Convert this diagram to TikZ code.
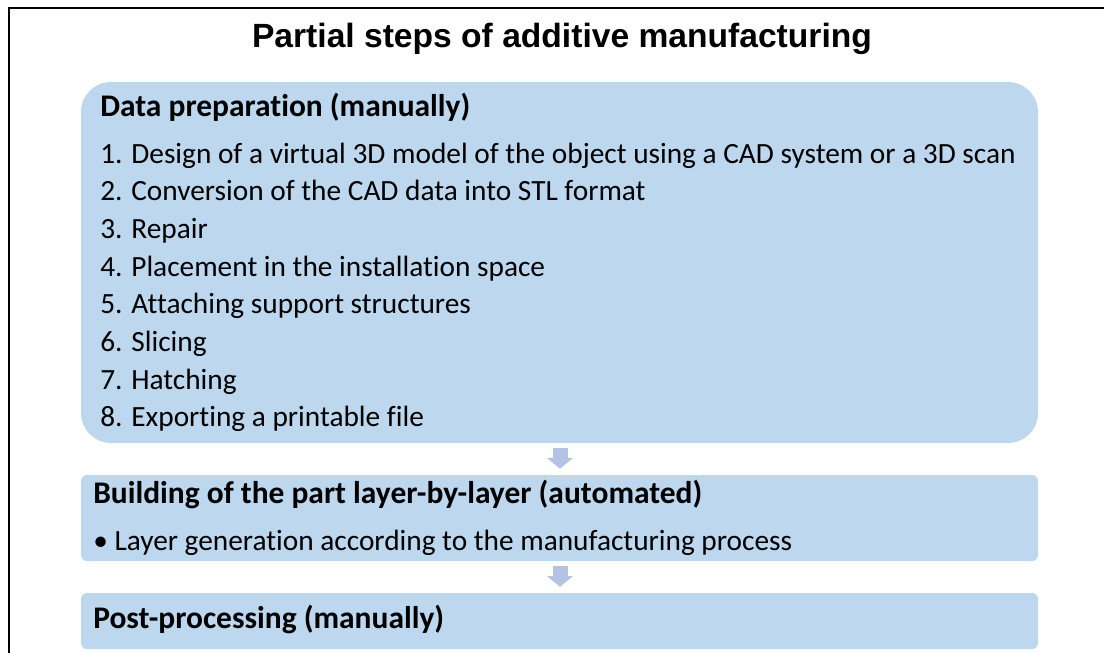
\documentclass[tikz,border=0pt]{standalone}
\usepackage{fontspec}
\setmainfont{Carlito}[Ligatures=NoCommon]
\newfontfamily\titlefont{Liberation Sans}
\usepackage{tikz}
\usetikzlibrary{arrows.meta, positioning}
\definecolor{stepblue}{HTML}{BDD7EE}
\definecolor{arrowblue}{HTML}{B4C2E4}
\tikzstyle{stepbox} = [rectangle, fill=stepblue, minimum width=717.75pt, inner sep=0pt]
\tikzstyle{heading} = [anchor=base west, inner sep=0pt, font=\fontsize{23.6}{27}\selectfont\bfseries]
\tikzstyle{item} = [anchor=base west, inner sep=0pt, font=\fontsize{22}{26}\selectfont]
\tikzstyle{flow} = [arrowblue, line width=11.25pt, -{Triangle[length=8pt, width=19pt]}, shorten <=3.75pt, shorten >=4.5pt]

\begin{document}
\begin{tikzpicture}[x=0.75pt, y=-0.75pt]
\useasboundingbox (0,0) rectangle (1104,653);
\clip (0,0) rectangle (1104,653);
% frame, cut off at the right and bottom
\draw [line width=1.5pt] (8.5,700) -- (8.5,7.5) -- (1150,7.5);
\node (title) [anchor=base, inner sep=0pt, font=\fontsize{25.2}{29}\selectfont\titlefont\bfseries] at (562,47) {Partial steps of additive manufacturing};

% boxes
\node (prep) [stepbox, rounded corners=22.5pt, minimum height=270.75pt] at (559.5,262.5) {};
\node (build) [stepbox, rounded corners=4.5pt, minimum height=64.5pt] at (559.5,518) {};
\node (post) [stepbox, rounded corners=4.5pt, minimum height=42pt] at (559.5,621) {};

% data preparation
\node (prephead) [heading] at (100,116) {Data preparation (manually)};
\node (s1) [item] at (100,163) {1. Design of a virtual 3D model of the object using a CAD system or a 3D scan};
\node (s2) [item] at (100,200.7) {2. Conversion of the CAD data into STL format};
\node (s3) [item] at (100,238.4) {3. Repair};
\node (s4) [item] at (100,276.1) {4. Placement in the installation space};
\node (s5) [item] at (100,313.8) {5. Attaching support structures};
\node (s6) [item] at (100,351.5) {6. Slicing};
\node (s7) [item] at (100,389.2) {7. Hatching};
\node (s8) [item] at (100,426.9) {8. Exporting a printable file};

% building and post-processing
\node (buildhead) [heading] at (93,503) {Building of the part layer-by-layer (automated)};
\node (layer) [item] at (93,550) {\textbullet\ Layer generation according to the manufacturing process};
\node (posthead) [heading] at (93,628) {Post-processing (manually)};

\draw [flow] (prep.south -| 560,0) -- (build.north -| 560,0);
\draw [flow] (build.south -| 560,0) -- (post.north -| 560,0);
\end{tikzpicture}
\end{document}
